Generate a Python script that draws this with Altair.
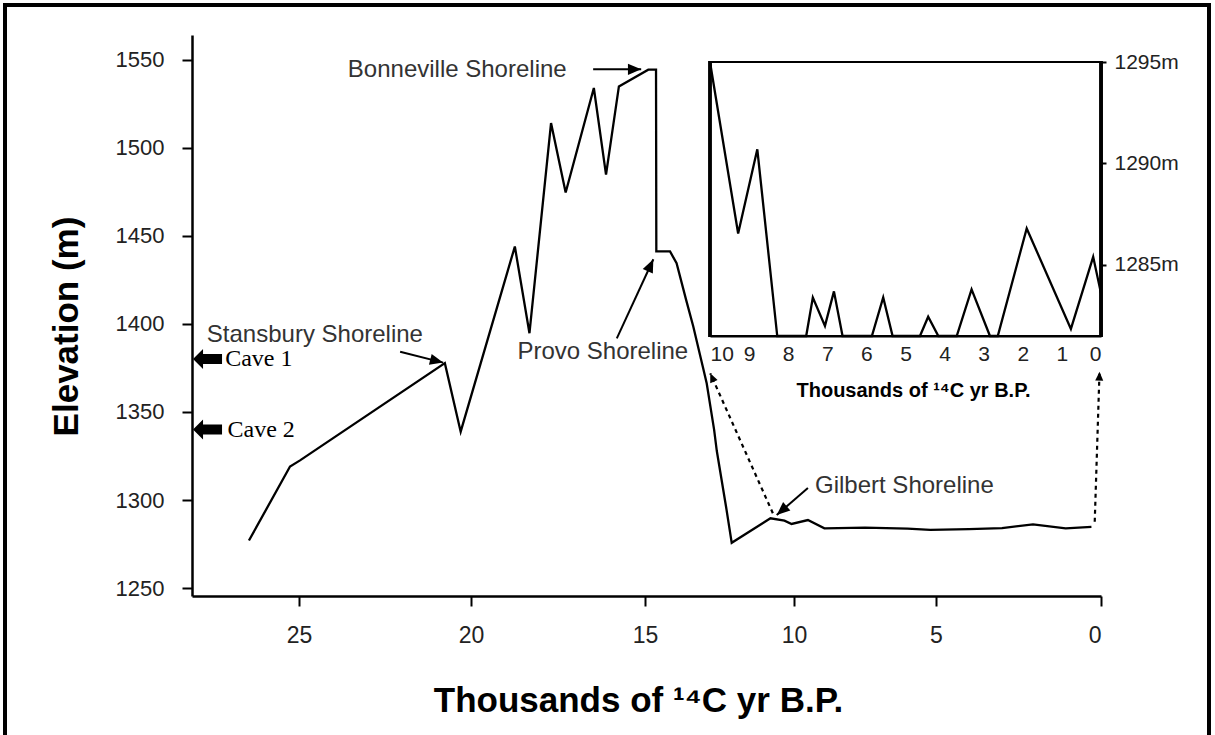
import math
import numpy as np
import pandas as pd
import altair as alt

# ---------------- data ----------------
# Main lake-level curve (thousands of 14C yr B.P., elevation m)
main_kyr = [26.45, 25.26, 24.97, 20.76, 20.30, 18.74, 18.32, 17.70, 17.28, 16.47,
            16.12, 15.75, 14.89, 14.63, 14.62, 14.16, 13.94, 13.62, 13.38, 13.06,
            12.93, 12.68, 12.59, 12.28, 12.09, 10.79, 10.32, 10.08, 9.51, 8.93,
            7.5, 6.0, 5.2, 4.0, 3.0, 2.06, 1.07, 0.29]
main_elev = [1277.0, 1319.0, 1322.5, 1377.7, 1338.8, 1443.9, 1394.7, 1514.0, 1474.6, 1533.9,
             1484.7, 1534.8, 1544.3, 1544.3, 1441.1, 1441.1, 1434.5, 1413.6, 1398.5, 1375.7,
             1366.3, 1339.8, 1327.8, 1296.2, 1275.7, 1289.6, 1288.3, 1286.4, 1288.6, 1283.9,
             1284.3, 1283.8, 1283.0, 1283.5, 1284.0, 1286.2, 1283.9, 1284.7]

# Inset: last 10,000 years
inset_kyr = [10.0, 9.28, 8.79, 8.28, 7.54, 7.37, 7.06, 6.83, 6.61, 5.86, 5.57, 5.33,
             4.63, 4.42, 4.16, 3.69, 3.31, 2.84, 2.64, 1.90, 0.77, 0.20, 0.0]
inset_elev = [1295.0, 1286.55, 1290.7, 1281.5, 1281.5, 1283.4, 1282.0, 1283.7, 1281.5,
              1281.5, 1283.4, 1281.5, 1281.5, 1282.45, 1281.5, 1281.5, 1283.8, 1281.5,
              1281.5, 1286.8, 1281.85, 1285.4, 1283.6]

x_ticks = [25, 20, 15, 10, 5, 0]
y_ticks = [1250, 1300, 1350, 1400, 1450, 1500, 1550]
inset_x_ticks = [10, 9, 8, 7, 6, 5, 4, 3, 2, 1, 0]
inset_y_ticks = [1295, 1290, 1285]

shore_labels = ["Bonneville Shoreline", "Stansbury Shoreline", "Gilbert Shoreline"]
shore_kyr = [23.58, 27.67, 9.26]
shore_elev = [1544.1, 1393.6, 1308.0]
provo_label = ["Provo Shoreline"]
provo_kyr = [13.55]
provo_elev = [1384.2]

cave_labels = ["Cave 1", "Cave 2"]
cave_elev = [1380, 1340]
cave_text_kyr = [27.14, 27.07]
cave_arrow_kyr = [27.65, 27.65]

arrow_x1 = [16.49, 22.06, 15.81, 9.51]
arrow_y1 = [1544.5, 1384.2, 1391.8, 1306.8]
arrow_x2 = [15.11, 20.81, 14.72, 10.58]
arrow_y2 = [1544.5, 1378.0, 1436.7, 1291.5]

dot_x1 = [10.71, 0.19]
dot_y1 = [1292.5, 1287.7]
dot_x2 = [12.81, 0.045]
dot_y2 = [1371.9, 1372.8]

# ---------------- scales (the printed x axis is hand-spaced) ----------------
W, H = 909, 561
X_DOMAIN = [0, 5, 10, 15, 20, 25, 28.1]
X_RANGE = [909, 744, 602, 453, 279, 107, 0]
Y_DOMAIN = [1245.5, 1564]


def to_px(k, m):
    px = float(np.interp(k, X_DOMAIN, X_RANGE))
    py = (Y_DOMAIN[1] - m) / (Y_DOMAIN[1] - Y_DOMAIN[0]) * H
    return px, py


def head_angle(xa, ya, xb, yb):
    ax, ay = to_px(xa, ya)
    bx, by = to_px(xb, yb)
    return (math.degrees(math.atan2(bx - ax, -(by - ay))) + 360.0) % 360.0


FONT = "Liberation Sans"
TITLE = "Thousands of \u00b9\u2074C yr B.P."

df_main = pd.DataFrame({"kyr": main_kyr, "elev": main_elev, "i": range(len(main_kyr))})
df_inset = pd.DataFrame({"ikyr": inset_kyr, "ielev": inset_elev, "i": range(len(inset_kyr))})
df_shore = pd.DataFrame({"kyr": shore_kyr, "elev": shore_elev, "label": shore_labels})
df_provo = pd.DataFrame({"kyr": provo_kyr, "elev": provo_elev, "label": provo_label})
df_cave_t = pd.DataFrame({"kyr": cave_text_kyr, "elev": cave_elev, "label": cave_labels})
df_cave_a = pd.DataFrame({"kyr": cave_arrow_kyr, "elev": cave_elev})
df_arrow = pd.DataFrame({"kyr": arrow_x1, "elev": arrow_y1, "kyr2": arrow_x2, "elev2": arrow_y2})
df_arrow["ang"] = [head_angle(a, b, c, d) for a, b, c, d in zip(arrow_x1, arrow_y1, arrow_x2, arrow_y2)]
df_dot = pd.DataFrame({"kyr": dot_x1, "elev": dot_y1, "kyr2": dot_x2, "elev2": dot_y2})
df_dot["ang"] = [head_angle(a, b, c, d) for a, b, c, d in zip(dot_x1, dot_y1, dot_x2, dot_y2)]

x_main = alt.X(
    "kyr:Q",
    scale=alt.Scale(domain=X_DOMAIN, range=X_RANGE, nice=False, zero=False),
    axis=alt.Axis(values=x_ticks, format="d", grid=False, title=TITLE,
                  labelFont=FONT, labelFontSize=23, labelColor="#222", labelPadding=18,
                  tickSize=10, tickWidth=2, tickColor="black",
                  domainColor="black", domainWidth=2.5,
                  titleFont=FONT, titleFontSize=35, titleFontWeight="bold", titleColor="black",
                  titleX=446, titleY=115, titleBaseline="alphabetic"),
)
y_main = alt.Y(
    "elev:Q",
    scale=alt.Scale(domain=Y_DOMAIN, nice=False, zero=False),
    axis=alt.Axis(values=y_ticks, format="d", grid=False, title="Elevation (m)",
                  labelFont=FONT, labelFontSize=22, labelColor="#222", labelPadding=18,
                  tickSize=10, tickWidth=2, tickColor="black",
                  domainColor="black", domainWidth=2.5,
                  titleFont=FONT, titleFontSize=35, titleFontWeight="bold", titleColor="black",
                  titleX=-115, titleY=291, titleBaseline="alphabetic"),
)

line_main = alt.Chart(df_main).mark_line(color="black", strokeWidth=2.3).encode(
    x=x_main, y=y_main, order="i:Q")

shore_text = alt.Chart(df_shore).mark_text(
    align="left", baseline="middle", font=FONT, fontSize=24, color="#333").encode(
    x="kyr:Q", y="elev:Q", text="label:N")
provo_text = alt.Chart(df_provo).mark_text(
    align="right", baseline="middle", font=FONT, fontSize=24, color="#333").encode(
    x="kyr:Q", y="elev:Q", text="label:N")
cave_text = alt.Chart(df_cave_t).mark_text(
    align="left", baseline="middle", font="Liberation Serif", fontSize=24, color="black").encode(
    x="kyr:Q", y="elev:Q", text="label:N")
cave_arrow = alt.Chart(df_cave_a).mark_point(
    shape="M -1 0 L -0.31 -0.69 L -0.31 -0.345 L 1 -0.345 L 1 0.345 L -0.31 0.345 L -0.31 0.69 Z",
    filled=True, color="black", opacity=1, size=841).encode(x="kyr:Q", y="elev:Q")

arrow_rule = alt.Chart(df_arrow).mark_rule(color="black", strokeWidth=2).encode(
    x="kyr:Q", y="elev:Q", x2="kyr2:Q", y2="elev2:Q")
arrow_head = alt.Chart(df_arrow).mark_point(
    shape="M 0 0 L -0.42 1 L 0.42 1 Z", filled=True, color="black", opacity=1, size=700).encode(
    x="kyr2:Q", y="elev2:Q", angle=alt.Angle("ang:Q", scale=None))
dot_rule = alt.Chart(df_dot).mark_rule(color="black", strokeWidth=2.2, strokeDash=[4, 4]).encode(
    x="kyr:Q", y="elev:Q", x2="kyr2:Q", y2="elev2:Q")
dot_head = alt.Chart(df_dot).mark_point(
    shape="M 0 0 L -0.45 1 L 0.45 1 Z", filled=True, color="black", opacity=1, size=320).encode(
    x="kyr2:Q", y="elev2:Q", angle=alt.Angle("ang:Q", scale=None))

border = alt.Chart(df_main).mark_rect(
    fillOpacity=0, stroke="black", strokeWidth=3).encode(
    x=alt.value(-187), x2=alt.value(1017), y=alt.value(-30), y2=alt.value(706))

main_group = alt.layer(line_main, shore_text, provo_text, cave_text, cave_arrow,
                       arrow_rule, arrow_head, dot_rule, dot_head, border)

# ---------------- inset ----------------
x_inset = alt.X(
    "ikyr:Q",
    scale=alt.Scale(domain=[0, 10], range=[909, 518], nice=False, zero=False),
    axis=alt.Axis(orient="bottom", offset=-260, values=inset_x_ticks, format="d", grid=False,
                  ticks=False, labelFont=FONT, labelFontSize=21, labelColor="#222", labelPadding=7,
                  domainColor="black", domainWidth=2.2, title=TITLE,
                  titleFont=FONT, titleFontSize=20, titleFontWeight="bold", titleColor="black",
                  titleX=721, titleY=60, titleBaseline="alphabetic"),
)
y_inset = alt.Y(
    "ielev:Q",
    scale=alt.Scale(domain=[1281.5, 1295], range=[301, 27], nice=False, zero=False),
    axis=alt.Axis(orient="right", values=inset_y_ticks, format="d", labelExpr="datum.label + 'm'",
                  grid=False, tickSize=5, tickWidth=2, tickColor="black", labelPadding=8,
                  labelFont=FONT, labelFontSize=21, labelColor="#222",
                  domainColor="black", domainWidth=2.2, title=None),
)

inset_line = alt.Chart(df_inset).mark_line(color="black", strokeWidth=2.3).encode(
    x=x_inset, y=y_inset, order="i:Q")
inset_frame = alt.Chart(df_inset).mark_rect(
    fillOpacity=0, stroke="black", strokeWidth=2.2).encode(
    x=alt.datum(10), x2=alt.datum(0), y=alt.datum(1281.5), y2=alt.datum(1295))

inset_group = alt.layer(inset_line, inset_frame)

chart = alt.layer(main_group, inset_group).resolve_scale(
    x="independent", y="independent").properties(
    width=W, height=H,
    autosize=alt.AutoSizeParams(type="none"),
    padding={"left": 192, "top": 35, "right": 114, "bottom": 139},
    background="white",
).configure_view(stroke=None)

chart.save("out.html", embed_options={"renderer": "svg", "actions": False})
